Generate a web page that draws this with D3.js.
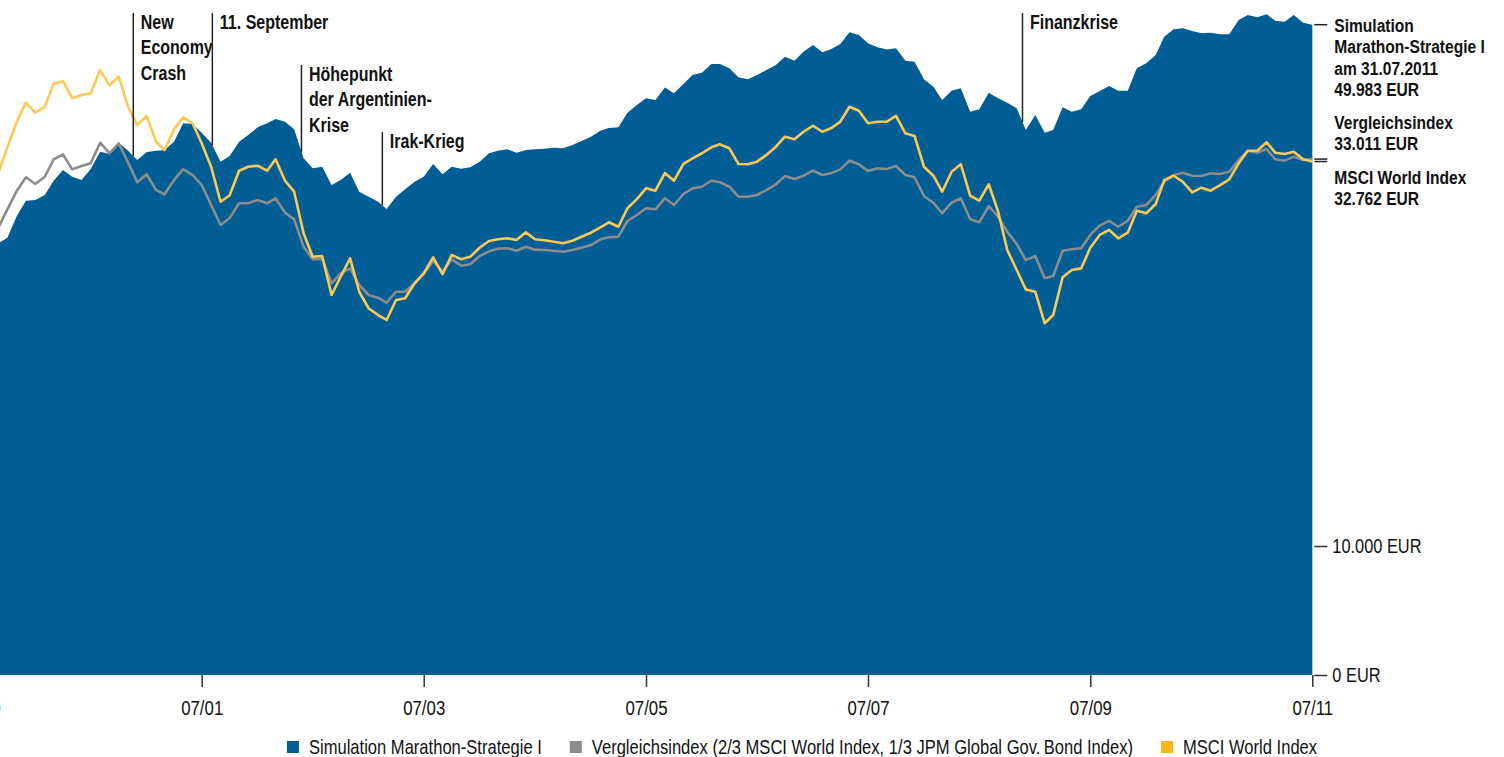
<!DOCTYPE html>
<html><head><meta charset="utf-8">
<script src="https://cdn.jsdelivr.net/npm/d3@7"></script>
<style>
body{margin:0;background:#fff}
svg text{font-family:"Liberation Sans",Arial,sans-serif;fill:#111}
</style></head><body>
<svg id="chart" width="1504" height="757"></svg>
<script>
// ---- data (monthly, first value = 09/1999, last = 07/2011) ----
const startMonth = "1999-09";
const simulation = [25450,25900,27700,29030,29090,29550,30880,31910,31260,30940,32010,33770,33530,34720,33870,32920,33740,33870,33950,34830,36870,36790,35810,34720,32750,33330,34830,35560,36410,36870,37360,37050,36190,33090,32080,32240,30470,30940,31650,29850,29390,28940,28300,29390,30070,30780,31260,32520,31500,32240,32040,32180,32750,33610,33870,34020,33670,33950,34020,34080,34190,34130,34480,34900,35370,36030,36330,36410,38090,39010,39820,39610,41170,40440,41620,42790,43100,44270,44270,43690,42490,42220,42790,43450,44140,45280,44720,45980,46950,45900,46320,47090,48820,48420,47190,46610,46290,46470,44720,44590,42220,41270,39610,40770,41070,38210,38490,40520,39820,39290,38610,36110,37820,35810,36110,38730,38210,38490,40110,40730,41360,40770,40770,43690,44370,45520,48160,49270,49430,49020,48670,48760,48520,48520,50710,51500,51140,51610,50600,50440,51500,50290,49983];
const vergleich = [26700,28270,29930,31210,30570,31260,32990,33500,31980,32310,32590,34720,33610,34660,32650,30730,31500,30000,29610,30940,32010,31430,30470,28650,26940,27520,28800,28800,29090,28800,29250,27980,27410,25190,24230,24270,22500,23200,23560,22380,21700,21520,21190,21920,21920,22500,23150,24120,23320,24230,23760,23860,24480,24830,25030,25070,24880,25190,24960,24930,24880,24800,24930,25110,25320,25770,25930,25980,27270,27780,28360,28270,29250,28650,29640,30160,30310,30880,30730,30310,29390,29390,29550,30000,30540,31330,31040,31360,31850,31430,31590,31980,32850,32490,31820,32080,32010,32310,31430,31210,29460,28850,27930,28850,29250,27410,27160,28560,27630,26380,25400,24170,24480,22850,23010,24880,24990,25070,26120,26890,27290,26790,27290,28500,28650,29550,30780,31430,31650,31360,31330,31590,31530,31750,32920,33870,33670,34050,32990,32850,33260,32920,33011];
const msci = [31590,34220,37070,39290,38090,38800,41620,42000,39820,40230,40440,43450,41450,42570,38800,36670,37710,34830,33950,36190,37550,36870,34660,32240,28940,29520,31850,32240,32340,31850,32990,30880,29850,26250,24420,24480,21700,22960,24300,21920,20820,20400,20090,21370,21480,22500,23200,24380,23140,24550,24230,24420,25110,25640,25770,25850,25710,26330,25770,25690,25580,25460,25660,25980,26300,26740,27160,26790,28360,29180,30160,29940,31620,30880,32520,33090,33610,34230,34550,34130,32520,32490,32750,33430,34300,35370,35090,35920,36590,35920,36300,37050,38800,38330,36870,37050,37050,37710,35750,35450,32240,31360,29850,31750,32490,29480,29030,30540,28060,24930,23440,22080,21920,19890,20400,22920,23440,23560,25110,26120,26520,25850,26300,28150,27930,28740,30940,31360,30780,29790,30220,29940,30470,31010,32590,33870,33870,34770,33670,33530,33770,32990,32762];

const xTickLabels = ["07/99","07/01","07/03","07/05","07/07","07/09","07/11"];
const yTickValues = [6716, 10000];
const yTickLabels = ["0 EUR","10.000 EUR"];

const events = [
  {date:"2000-11-18", lines:["New","Economy","Crash"], top:13},
  {date:"2001-08-05", lines:["11. September"], top:13},
  {date:"2002-05-25", lines:["Höhepunkt","der Argentinien-","Krise"], top:65},
  {date:"2003-02-15", lines:["Irak-Krieg"], top:132},
  {date:"2008-11-20", lines:["Finanzkrise"], top:13}
];

const seriesNames = ["Simulation Marathon-Strategie I","Vergleichsindex (2/3 MSCI World Index, 1/3 JPM Global Gov.\u2009Bond Index)","MSCI World Index"];
const endLabelTitles = [["Simulation","Marathon-Strategie I","am 31.07.2011"],["Vergleichsindex"],["MSCI World Index"]];
const colors = {area:"#005e95", gray:"#8c8c8c", yellow:"#fcc955", legendYellow:"#fdb913"};

// ---- setup ----
const SX = 0.82; // horizontal condensing of the sans font
const svg = d3.select("#chart");
const de = d3.formatLocale({decimal:",", thousands:".", grouping:[3], currency:["","€"]});
const fmt = de.format(",d");
const parseM = d3.timeParse("%Y-%m");
const parseTick = d3.timeParse("%m/%y");
const parseD = d3.timeParse("%Y-%m-%d");
const dates = simulation.map((_, i) => d3.timeMonth.offset(parseM(startMonth), i));

const x = d3.scaleTime().domain([new Date(2001,6,1), new Date(2011,6,1)]).range([201.7, 1312.3]);
const y = d3.scaleLog().domain([6716, 52300]).range([675, 10]);

const data = dates.map((d, i) => ({d, s: simulation[i], v: vergleich[i], m: msci[i]}));

function condText(parent, tx, ty, lines, size, weight, lh) {
  const t = parent.append("text")
    .attr("transform", `translate(${tx},${ty}) scale(${SX},1)`)
    .attr("font-size", size).attr("font-weight", weight || "normal");
  lines.forEach((l, k) => t.append("tspan").attr("x", 0).attr("dy", k ? lh : 0).text(l));
  return t;
}

// area
svg.append("path").datum(data)
  .attr("fill", colors.area)
  .attr("d", d3.area().x(p => x(p.d)).y0(y(y.domain()[0])).y1(p => y(p.s)));

// lines
svg.append("path").datum(data)
  .attr("fill","none").attr("stroke", colors.gray).attr("stroke-width",2.6).attr("stroke-linejoin","round")
  .attr("d", d3.line().x(p => x(p.d)).y(p => y(p.v)));
svg.append("path").datum(data)
  .attr("fill","none").attr("stroke", colors.yellow).attr("stroke-width",2.6).attr("stroke-linejoin","round")
  .attr("d", d3.line().x(p => x(p.d)).y(p => y(p.m)));

// x axis
const xAxis = svg.append("g").attr("transform", `translate(0,${y(y.domain()[0])})`)
  .call(d3.axisBottom(x).tickValues(xTickLabels.map(parseTick)).tickFormat(d3.timeFormat("%m/%y")).tickSize(12).tickPadding(13));
xAxis.select(".domain").remove();
xAxis.selectAll(".tick line").attr("stroke","#333").attr("stroke-width",1.5);
xAxis.selectAll(".tick text").attr("font-size",20.5).attr("fill","#111")
  .attr("transform", `scale(${SX},1)`);

// y axis (right)
const yAxis = svg.append("g").attr("transform", `translate(${x(dates[dates.length-1]) + 2},0)`)
  .call(d3.axisRight(y).tickValues(yTickValues).tickFormat((d,i) => yTickLabels[i]).tickSize(13).tickPadding(5));
yAxis.select(".domain").remove();
yAxis.selectAll(".tick line").attr("stroke","#333").attr("stroke-width",1.5);
yAxis.selectAll(".tick text").attr("font-size",20).attr("fill","#111")
  .attr("x", 18 / SX).attr("transform", `scale(${SX},1)`);

// events
const bis = d3.bisector(p => p.d).left;
events.forEach(ev => {
  const dt = parseD(ev.date);
  const i = bis(data, dt);
  const a = data[i-1], b = data[i];
  const t = (x(dt) - x(a.d)) / (x(b.d) - x(a.d));
  const yb = y(a.s) + t * (y(b.s) - y(a.s));
  const g = svg.append("g");
  g.append("line").attr("x1", x(dt)).attr("x2", x(dt)).attr("y1", ev.top).attr("y2", yb)
    .attr("stroke","#222").attr("stroke-width",1.5);
  condText(g, x(dt) + 7.5, ev.top + 16, ev.lines, 19.5, "bold", 25.5);
});

// end labels
const last = data[data.length-1];
const xEnd = x(last.d) + 2;
const endVals = [last.s, last.v, last.m];
const endBase = [32, 129, 184];
endVals.forEach((v, k) => {
  svg.append("line").attr("x1", xEnd).attr("x2", xEnd + 13).attr("y1", y(v)).attr("y2", y(v))
    .attr("stroke","#222").attr("stroke-width",1.5);
  condText(svg, xEnd + 20, endBase[k], endLabelTitles[k].concat([fmt(v) + " EUR"]), 19, "bold", 21.5);
});

// legend
const lg = svg.append("g");
const legColors = [colors.area, colors.gray, colors.legendYellow];
let cx = 0;
seriesNames.forEach((n, k) => {
  const it = lg.append("g").attr("transform", `translate(${cx},0)`);
  it.append("rect").attr("x",0).attr("y",-6).attr("width",12).attr("height",12).attr("fill",legColors[k]);
  const t = condText(it, 22, 0, [n], 20.2, "normal", 0);
  t.select("tspan").attr("dy", "0.35em");
  cx += 22 + t.node().getComputedTextLength() * SX + 28;
});
const totalW = cx - 28;
lg.attr("transform", `translate(${802 - totalW/2},747)`);
</script>
</body></html>
